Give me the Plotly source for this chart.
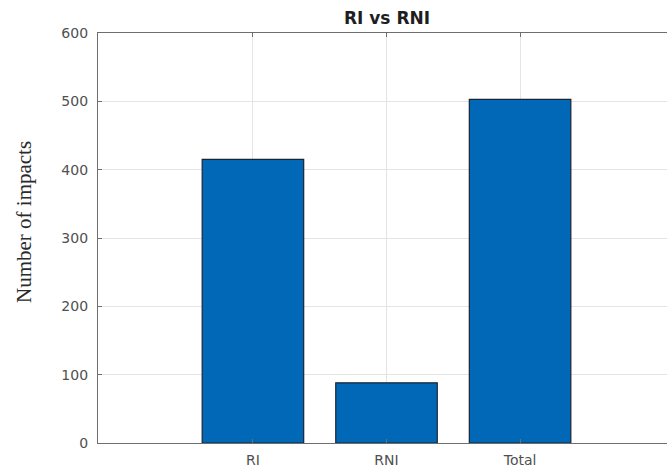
import plotly.graph_objects as go

categories = ["RI", "RNI", "Total"]
impacts = [415, 88, 503]
y_ticks = [0, 100, 200, 300, 400, 500, 600]

tick_font = dict(family="DejaVu Sans, Liberation Sans, Arial", size=14, color="#505050")

fig = go.Figure()
fig.add_trace(go.Bar(
    x=categories,
    y=impacts,
    width=0.76,
    marker=dict(color="#0068b7", line=dict(color="#1a2433", width=1.2)),
))

fig.update_layout(
    width=667,
    height=472,
    margin=dict(l=98, r=0, t=33, b=29),
    paper_bgcolor="white",
    plot_bgcolor="white",
    showlegend=False,
    title=dict(
        text="<b>RI vs RNI</b>",
        x=387 / 667,
        xanchor="center",
        y=1 - 18.5 / 472,
        yanchor="middle",
        font=dict(family="DejaVu Sans, Arial", size=17, color="#1e1e1e"),
    ),
    xaxis=dict(
        type="category",
        range=[-1.16, 3.1],
        showline=True,
        linecolor="#6e6e6e",
        linewidth=1.3,
        mirror="ticks",
        ticks="inside",
        ticklen=4,
        tickcolor="#6e6e6e",
        showgrid=True,
        gridcolor="#e4e4e4",
        gridwidth=1,
        tickfont=tick_font,
        ticklabelstandoff=4,
        fixedrange=True,
    ),
    yaxis=dict(
        range=[0, 600],
        tickvals=y_ticks,
        showline=True,
        linecolor="#6e6e6e",
        linewidth=1.3,
        ticks="inside",
        ticklen=4,
        tickcolor="#6e6e6e",
        showgrid=True,
        gridcolor="#e4e4e4",
        gridwidth=1,
        zeroline=False,
        tickfont=tick_font,
        ticklabelstandoff=6,
        fixedrange=True,
    ),
    annotations=[
        dict(
            text="Number of impacts",
            textangle=-90,
            xref="paper",
            yref="paper",
            x=(24 - 98) / 569,
            y=(443 - 222) / 410,
            xanchor="center",
            yanchor="middle",
            showarrow=False,
            font=dict(family="Liberation Serif, Times New Roman", size=21, color="#2a2a2a"),
        )
    ],
)

fig.write_html("out.html")
